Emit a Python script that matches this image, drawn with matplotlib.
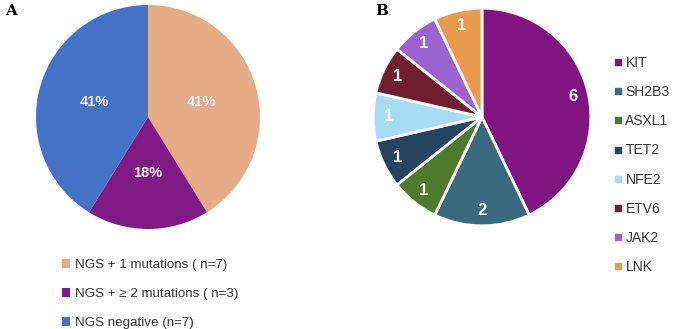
import numpy as np
import matplotlib.pyplot as plt
from matplotlib.lines import Line2D

# Panel A data
ngs_labels = ['NGS + 1 mutations ( n=7)', 'NGS + \u2265 2 mutations ( n=3)', 'NGS negative (n=7)']
ngs_counts = [7, 3, 7]
ngs_colors = ['#E6AC88', '#801A85', '#4472C4']

# Panel B data
genes = ['KIT', 'SH2B3', 'ASXL1', 'TET2', 'NFE2', 'ETV6', 'JAK2', 'LNK']
gene_counts = [6, 2, 1, 1, 1, 1, 1, 1]
gene_colors = ['#801480', '#3A6A7E', '#4E7B2B', '#26435F', '#A8DCF5', '#6E1E2E', '#9C62D0', '#E99A4F']

plt.rcParams['font.family'] = ['Liberation Sans', 'DejaVu Sans']

W, H = 676, 329
fig = plt.figure(figsize=(W / 100, H / 100), dpi=100)


def px_axes(cx, cy, r):
    # axes box from pixel centre/radius (y measured from top)
    return fig.add_axes([(cx - r) / W, (H - cy - r) / H, 2 * r / W, 2 * r / H])


# ---- A ----
axA = px_axes(148, 117, 112)
wA, tA, aA = axA.pie(ngs_counts, colors=ngs_colors, startangle=90, counterclock=False,
                     autopct=lambda p: f'{p:.0f}%', pctdistance=0.5,
                     textprops=dict(color='white', fontsize=10.5, fontweight='bold'))
for t in aA:
    t.set_color('#F4F0F4')
axA.set_xlim(-1, 1)
axA.set_ylim(-1, 1)
axA.set_aspect('equal')

fig.legend(wA, ngs_labels, loc='upper left', bbox_to_anchor=(50 / W, 1 - 247 / H),
           frameon=False, fontsize=9.6, handlelength=0.6, handleheight=0.6,
           handletextpad=0.35, labelspacing=1.29, labelcolor='#333333')

fig.text(5 / W, 1 - 11 / H, 'A', fontsize=11, fontweight='bold', family='DejaVu Serif',
         va='center', ha='left')

# ---- B ----
axB = px_axes(482, 117, 111)
wB, tB = axB.pie(gene_counts, colors=gene_colors, startangle=90, counterclock=False,
                 labels=[str(c) for c in gene_counts], labeldistance=0.86,
                 wedgeprops=dict(edgecolor='white', linewidth=2),
                 textprops=dict(color='white', fontsize=12, fontweight='bold'))
for t in tB:
    t.set_ha('center')
    t.set_va('center')
axB.set_xlim(-1.02, 1.02)
axB.set_ylim(-1.02, 1.02)
axB.set_aspect('equal')

gene_handles = [Line2D([], [], marker='s', ls='', color=c, markersize=4) for c in gene_colors]
fig.legend(gene_handles, genes, loc='upper left', bbox_to_anchor=(602.5 / W, 1 - 43.5 / H),
           frameon=False, fontsize=10, handlelength=0.5,
           handletextpad=0.25, labelspacing=1.09, labelcolor='#333333')

fig.text(375 / W, 1 - 11 / H, 'B', fontsize=11, fontweight='bold', family='DejaVu Serif',
         va='center', ha='left')

fig.savefig('out.png', dpi=100)
